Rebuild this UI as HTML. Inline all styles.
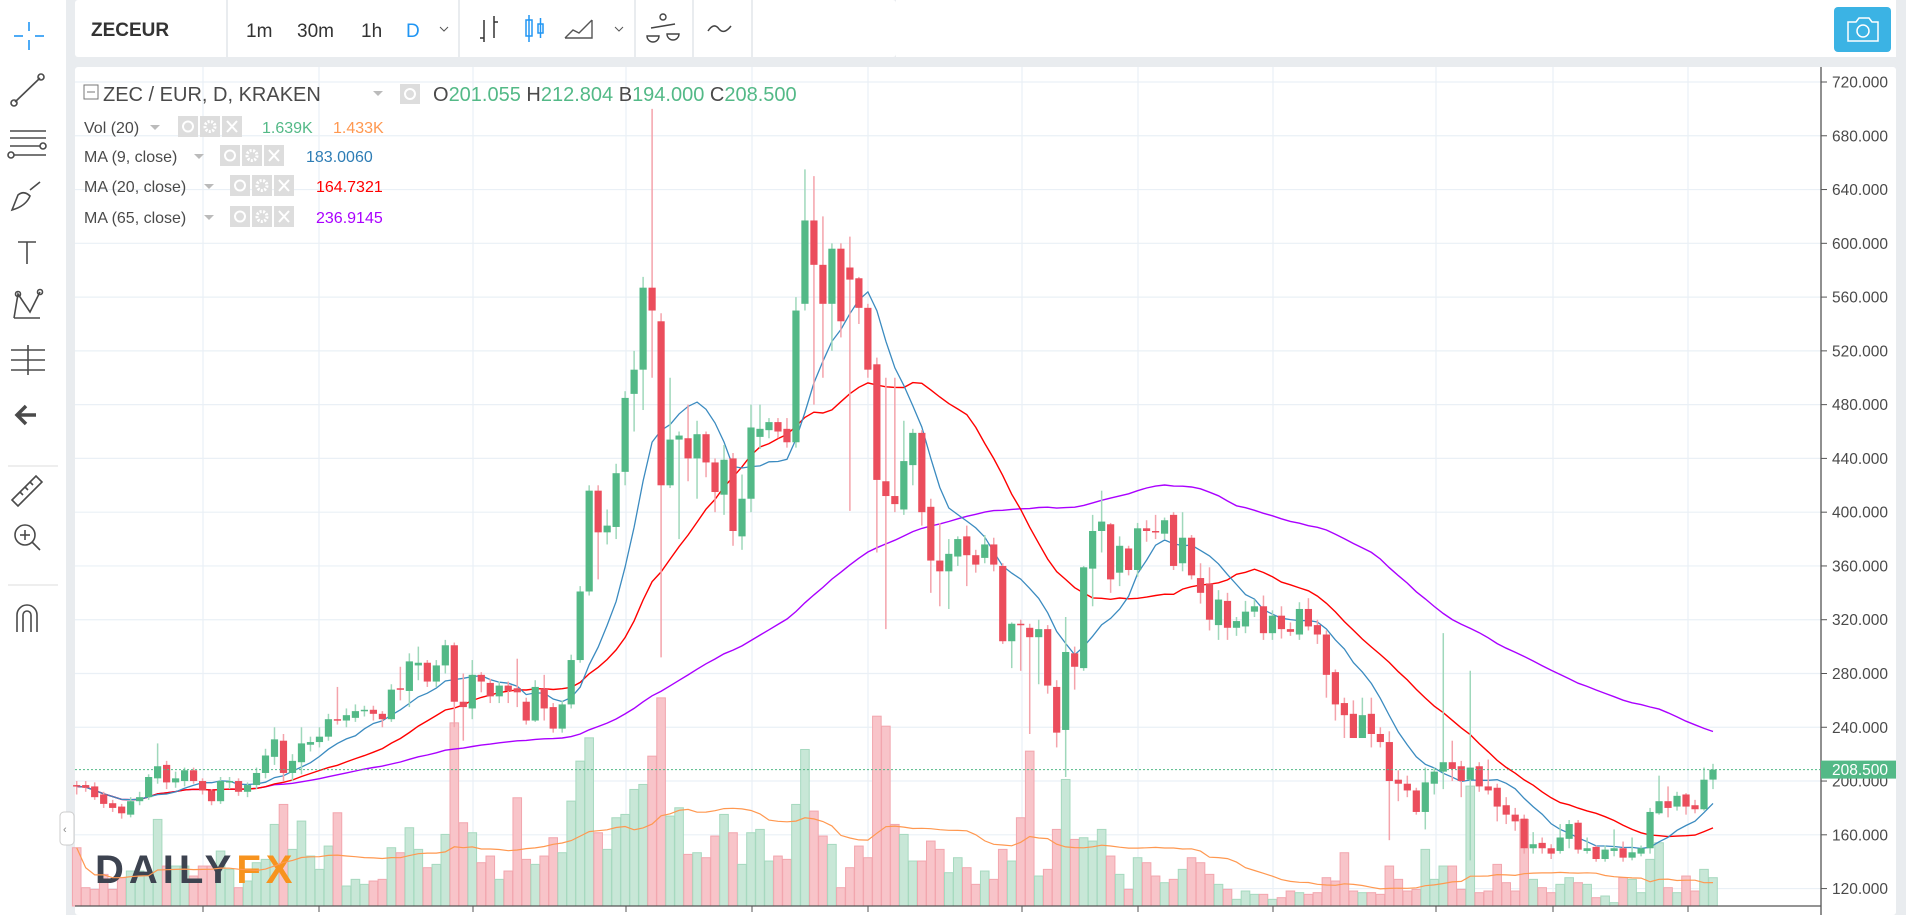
<!DOCTYPE html>
<html><head><meta charset="utf-8"><style>
html,body{margin:0;padding:0;background:#e9ecef;width:1906px;height:915px;overflow:hidden;font-family:"Liberation Sans",sans-serif}
svg{display:block}
</style></head><body>
<svg id="chart" width="1906" height="915" viewBox="0 0 1906 915" xmlns="http://www.w3.org/2000/svg">
<rect x="0" y="0" width="1906" height="915" fill="#e9ecef"/>
<rect x="0" y="0" width="66" height="915" fill="#fff"/>
<g stroke="#4a4a4a" fill="none" stroke-width="1.6">
<g stroke="#2196f3"><line x1="29" y1="22" x2="29" y2="31"/><line x1="29" y1="40" x2="29" y2="50"/><line x1="14" y1="36" x2="23" y2="36"/><line x1="35" y1="36" x2="44" y2="36"/></g>
<g><line x1="15" y1="102" x2="40" y2="78"/><circle cx="14" cy="103" r="3"/><circle cx="41" cy="77" r="3"/></g>
<g><line x1="10" y1="131" x2="46" y2="131"/><line x1="10" y1="138" x2="46" y2="138"/><line x1="10" y1="146" x2="40" y2="146"/><line x1="14" y1="155" x2="46" y2="155"/><circle cx="43" cy="146" r="3"/><circle cx="11" cy="155" r="3"/></g>
<g><path d="M12 210 L18 195 Q24 190 30 196 Q26 206 12 210 Z"/><path d="M30 190 L40 182"/></g>
<g><line x1="18" y1="242" x2="36" y2="242"/><line x1="27" y1="242" x2="27" y2="264"/></g>
<g><path d="M14 318 L18 294 L30 312 L40 292 M14 318 L40 318"/><circle cx="18" cy="294" r="2.5"/><circle cx="40" cy="292" r="2.5"/></g>
<g><line x1="11" y1="350" x2="45" y2="350"/><line x1="11" y1="360" x2="45" y2="360"/><line x1="11" y1="370" x2="45" y2="370"/><line x1="28" y1="345" x2="28" y2="375"/></g>
<g stroke-width="3.5"><path d="M36 415 L18 415 M26 406 L17 415 L26 424"/></g>
<line x1="8" y1="466" x2="58" y2="466" stroke="#ddd" stroke-width="1"/>
<g><path d="M12 500 L36 476 L42 482 L18 506 Z M20 492 L23 495 M25 487 L28 490 M30 482 L33 485"/></g>
<g><circle cx="25" cy="535" r="10"/><line x1="32" y1="542" x2="40" y2="550"/><line x1="20" y1="535" x2="30" y2="535"/><line x1="25" y1="530" x2="25" y2="540"/></g>
<line x1="8" y1="585" x2="58" y2="585" stroke="#ddd" stroke-width="1"/>
<g><path d="M17 632 L17 615 A10 10 0 0 1 37 615 L37 632 M23 632 L23 615 A4 4 0 0 1 31 615 L31 632"/></g>
</g>
<rect x="60" y="812" width="14" height="33" rx="4" fill="#fff" stroke="#ccc"/>
<text x="63" y="833" font-size="11" fill="#888">‹</text>

<g>
<rect x="75" y="0" width="821" height="57" fill="#fff" rx="3"/>
<rect x="226" y="0" width="2" height="57" fill="#e9ecef"/>
<rect x="458" y="0" width="2" height="57" fill="#e9ecef"/>
<rect x="634" y="0" width="2" height="57" fill="#e9ecef"/>
<rect x="692" y="0" width="2" height="57" fill="#e9ecef"/>
<rect x="751" y="0" width="2" height="57" fill="#e9ecef"/>
<rect x="896" y="0" width="1000" height="57" fill="#fff"/>
<text x="91" y="36" font-size="19" font-weight="bold" fill="#333">ZECEUR</text>
<text x="246" y="37" font-size="19" fill="#333">1m</text>
<text x="297" y="37" font-size="19" fill="#333">30m</text>
<text x="361" y="37" font-size="19" fill="#333">1h</text>
<text x="406" y="37" font-size="19" fill="#2196f3">D</text>
<path d="M440 27 L444 31 L448 27" stroke="#555" fill="none"/>
<g stroke="#333" fill="none" stroke-width="1.5"><path d="M484 20 L484 42 M480 38 L484 38 M494 16 L494 38 M494 22 L498 22"/></g>
<g stroke="#2196f3" fill="none" stroke-width="1.5"><rect x="526" y="20" width="6" height="16"/><line x1="529" y1="15" x2="529" y2="42"/><rect x="538" y="24" width="5" height="9"/><line x1="540.5" y1="18" x2="540.5" y2="38"/></g>
<g stroke="#555" fill="none" stroke-width="1.4"><path d="M565 38 L573 30 L579 33 L592 20 M565 38 L592 38 L592 20"/></g>
<path d="M615 27 L619 31 L623 27" stroke="#555" fill="none"/>
<g stroke="#444" fill="none" stroke-width="1.4"><circle cx="663" cy="17" r="3"/><line x1="651" y1="28" x2="675" y2="24"/><path d="M647 36 A6 6 0 0 0 659 36 Z M667 34 A6 6 0 0 0 679 34 Z"/></g>
<path d="M708 31 Q714 22 719 29 Q724 35 731 26" stroke="#444" fill="none" stroke-width="1.5"/>
<rect x="1834" y="7" width="57" height="45" rx="4" fill="#3bb3e4"/>
<path d="M1848 22 L1856 22 L1859 18 L1869 18 L1872 22 L1878 22 L1878 41 L1848 41 Z" stroke="#fff" fill="none" stroke-width="1.5"/>
<circle cx="1863" cy="31" r="6" stroke="#fff" fill="none" stroke-width="1.5"/>
</g>

<rect x="75" y="67" width="1821" height="848" fill="#fff" rx="3"/>
<g id="grid"></g>
<g id="vol"></g>
<g id="logo">
<text x="95" y="883" font-size="40" font-weight="bold" letter-spacing="5" fill="#3d4350">DAILY<tspan fill="#f7931e">FX</tspan></text>
</g>
<g id="lines"></g>
<g id="candles"></g>
<g id="axis"></g>

<g font-size="20">
<rect x="84" y="85" width="14" height="14" fill="none" stroke="#777"/><line x1="87" y1="92" x2="95" y2="92" stroke="#777"/>
<text x="103" y="101" fill="#4a4a4a">ZEC / EUR, D, KRAKEN</text>
<path d="M373 91 L378 96 L383 91 Z" fill="#bbb"/>
<rect x="400" y="84" width="20" height="20" fill="#ddd"/><circle cx="410" cy="94" r="5" stroke="#fff" fill="none" stroke-width="2"/>
<text x="433" y="101" fill="#4a4a4a">O<tspan fill="#53b987">201.055</tspan> H<tspan fill="#53b987">212.804</tspan> B<tspan fill="#53b987">194.000</tspan> C<tspan fill="#53b987">208.500</tspan></text>
<g font-size="16">
<text x="84" y="133" fill="#4a4a4a">Vol (20)</text>
<text x="262" y="133" fill="#53b987">1.639K</text><text x="333" y="133" fill="#ff9850">1.433K</text>
<text x="84" y="162" fill="#4a4a4a">MA (9, close)</text>
<text x="306" y="162" fill="#2e7db5">183.0060</text>
<text x="84" y="192" fill="#4a4a4a">MA (20, close)</text>
<text x="316" y="192" fill="#ff0000">164.7321</text>
<text x="84" y="223" fill="#4a4a4a">MA (65, close)</text>
<text x="316" y="223" fill="#aa00ff">236.9145</text>
</g>
<g id="legendIcons"></g>
<g fill="#bbb"><path d="M150 125 L155 130 L160 125 Z"/><path d="M194 154 L199 159 L204 154 Z"/><path d="M204 184 L209 189 L214 184 Z"/><path d="M204 215 L209 220 L214 215 Z"/></g>
</g>
</svg>
<script>
const opens=[197,197,196,190,183.5,181,175,185,188,202,212,199,200,208,200,193,185,199,200,192,197,206,218,230,206,214,227,229,233,246,245,247,252,253,250,246,269,267,286,288,274,286,301,259,254,279,273,263,271,269,259,245,269,255,239,257,290,341,416,385,389,430,488,506,567,542,420,454,455,440,458,437,413,440,382,410,456,461,467,462,452,555,617,584,555,596,582,574,552,510,423,412,402,435,459,404,364,356,367,382,368,366,376,360,304,317,314,307,313,270,238,295,284,358,386,391,355,373,357,388,386,384,398,362,381,351,347,316,334,314,315,326,330,310,323,313,309,328,316,309,281,258,250,232,250,235,229,201,198,193,177,198,207,214,211,201,211,196,195,182,175,172,150,154,150,148,157,169,148,151,142,148,150,143,146,150,176,185,181,190,182,179,201.055];
const closes=[196,195,188,183,180,176,185,188,203,211,199,202,208,200,193,185,200,200,192,197,206,219,231,206,215,228,229,233,246,245,249,252,253,250,246,268,268,289,288,274,286,301,259,255,279,274,263,271,267,266,245,270,254,239,257,290,341,416,385,390,429,485,506,567,550,420,454,457,440,458,437,415,439,386,410,463,462,467,460,452,550,617,584,555,596,542,573,552,506,424,412,406,438,459,400,364,356,369,380,368,361,376,361,304,317,316,307,313,271,236,296,285,359,386,393,350,375,357,388,386,385,394,360,381,353,340,320,335,314,319,326,330,310,323,313,311,328,315,309,279,257,249,232,249,235,229,200,198,193,177,199,207,214,209,200,210,196,193,181,175,170,150,153,150,146,158,168,149,150,142,149,150,143,147,150,177,185,180,189,181,179,201,208.5];
const highs=[200,200,199,192,186,183,188,192,205,228,215,207,210,210,202,194,203,203,202,199,210,224,240,235,220,240,233,240,250,270,254,257,256,256,252,272,285,295,300,290,290,305,303,280,290,281,276,274,274,291,262,275,279,258,260,294,345,420,420,402,436,490,520,575,700,548,500,460,480,468,460,440,450,444,428,480,480,470,470,470,560,655,650,620,600,600,605,575,555,515,500,500,468,462,461,410,392,380,382,390,372,383,381,362,318,320,317,320,316,275,322,300,360,398,416,392,382,375,392,394,398,396,400,400,383,362,359,342,340,322,334,335,338,327,330,318,333,336,320,312,283,262,260,262,262,240,237,208,204,195,210,210,310,230,215,282,214,216,198,188,180,175,162,158,153,168,171,171,158,152,152,164,155,158,152,180,204,196,192,191,186,210,212.8];
const lows=[190,192,186,180,177,172,173,182,186,198,194,195,196,198,190,182,183,194,189,188,194,202,212,200,200,205,222,225,230,242,240,244,248,245,240,244,260,255,275,270,270,280,240,230,246,266,258,258,258,255,242,244,245,236,236,254,288,338,350,376,380,420,460,476,500,292,418,380,423,410,426,400,398,375,372,400,447,455,455,448,448,550,480,500,520,530,401,540,500,370,313,400,398,420,390,340,330,328,360,345,355,362,356,302,284,282,235,272,265,225,203,268,282,330,370,340,345,353,352,378,380,380,357,356,350,332,312,305,305,308,310,322,305,305,306,308,305,312,302,262,245,232,232,232,225,225,156,185,188,175,164,190,194,200,188,141,192,190,170,168,163,146,146,146,142,146,150,146,146,140,140,144,140,141,144,146,175,173,178,175,176,178,194];
const volumes=[3.5,1.1,1.0,1.9,1.0,1.7,2.1,2.1,2.0,5.2,2.4,2.4,2.4,1.8,2.4,2.4,3.3,2.2,1.1,1.5,2.6,2.8,4.9,6.1,3.4,5.1,3.0,2.2,3.6,5.6,1.2,1.6,1.3,1.5,1.6,3.5,3.2,4.7,3.4,2.3,2.5,4.3,11.0,5.0,4.4,2.6,3.0,1.6,2.1,6.5,2.8,2.5,3.0,4.1,3.2,6.3,8.7,10.1,4.4,3.4,5.3,5.5,7.0,7.3,9.0,12.5,5.4,5.9,3.1,3.2,2.9,4.2,5.5,4.4,2.5,4.4,4.6,2.7,3.0,2.8,6.1,9.4,5.7,4.2,3.7,1.1,2.3,3.6,2.9,11.4,10.8,4.9,4.3,2.7,2.7,3.9,3.4,2.0,2.9,2.3,1.3,2.1,1.6,3.4,2.7,5.3,9.3,1.8,2.2,4.6,7.6,4.0,4.1,3.9,4.6,3.0,1.9,1.0,2.9,2.6,1.8,1.4,1.6,2.2,2.9,2.6,1.9,1.3,1.0,0.4,0.9,0.7,0.7,0.4,0.5,0.9,0.8,0.7,0.8,1.7,1.5,3.2,0.9,0.8,0.8,0.7,2.4,1.6,0.9,1.0,3.4,1.6,2.4,2.4,1.0,7.2,0.8,0.9,2.5,1.4,0.9,5.2,1.6,1.1,0.8,1.3,1.7,1.4,1.3,0.5,0.6,0.2,1.7,1.6,0.8,2.8,3.8,1.1,0.8,1.8,0.9,2.2,1.7];
const priceTicks=[720,680,640,600,560,520,480,440,400,360,320,280,240,200,160,120];
const timeGridX=[203,319,473,626,752,868,1022,1138,1273,1436,1553,1688];
const lastPrice=208.5;

const NS='http://www.w3.org/2000/svg';
const X0=76.7, STEP=(1713-76.7)/(closes.length-1);
function xAt(i){return X0+i*STEP;}
function yP(p){return 82+(720-p)*1.3443;}
const VBASE=906, VK=16.65;
function yV(v){return VBASE-v*VK;}
function mk(tag,attrs,parent){const e=document.createElementNS(NS,tag);for(const k in attrs)e.setAttribute(k,attrs[k]);parent.appendChild(e);return e;}

const li=document.getElementById('legendIcons');
[[178,116],[220,145],[230,175],[230,206]].forEach(([bx,by])=>{
  for(let k=0;k<3;k++){
    const x=bx+k*22;
    const r=mk('rect',{x:x,y:by,width:20,height:21,fill:'#ddd'},li);
    
    
    if(k===0){mk('circle',{cx:x+10,cy:by+10.5,r:5,stroke:'#fff',fill:'none','stroke-width':2},li);}
    else if(k===1){mk('circle',{cx:x+10,cy:by+10.5,r:5,stroke:'#fff',fill:'none','stroke-width':3,'stroke-dasharray':'2 1.5'},li);}
    else{mk('path',{d:`M${x+5} ${by+5} L${x+15} ${by+16} M${x+15} ${by+5} L${x+5} ${by+16}`,stroke:'#fff','stroke-width':2},li);}
  }
});

const grid=document.getElementById('grid');
priceTicks.forEach(p=>{
  const l=mk('line',{x1:75,x2:1821,y1:yP(p),y2:yP(p),stroke:'#eaf0f6','stroke-width':1.2},grid);
  
  
});
timeGridX.forEach(x=>{
  const l=mk('line',{x1:x,x2:x,y1:67,y2:906,stroke:'#eaf0f6','stroke-width':1.2},grid);
  
  
  const t=mk('line',{x1:x,x2:x,y1:906,y2:912,stroke:'#555','stroke-width':1},grid);
  
  
});

const vol=document.getElementById('vol');
volumes.forEach((v,i)=>{
  const up=closes[i]>=opens[i];
  const r=mk('rect',{x:xAt(i)-4.3,y:yV(v),width:8.6,height:VBASE-yV(v),fill:up?'#c8e7d7':'#f8c4c9',stroke:up?'#a6d9bf':'#f2a6ae','stroke-width':1},vol);
  
  
});

function sma(arr,n){return arr.map((_,i)=>{const s=Math.max(0,i-n+1);let t=0;for(let k=s;k<=i;k++)t+=arr[k];return t/(i-s+1);});}
function drawLine(vals,yf,color,name,w){
  const d=vals.map((v,i)=>(i?'L':'M')+xAt(i).toFixed(1)+' '+yf(v).toFixed(1)).join(' ');
  const p=mk('path',{d:d,fill:'none',stroke:color,'stroke-width':w},document.getElementById('lines'));
  
  
}
drawLine(sma(volumes,20),yV,'#ff9850','volume-ma-line',1.2);
drawLine(sma(closes,65),yP,'#aa00ff','ma65-line',1.4);
drawLine(sma(closes,20),yP,'#ff0000','ma20-line',1.4);
drawLine(sma(closes,9),yP,'#3b8bc0','ma9-line',1.3);

const cg=document.getElementById('candles');
closes.forEach((c,i)=>{
  const o=opens[i],up=c>=o,x=xAt(i);
  const w=mk('line',{x1:x,x2:x,y1:yP(highs[i]),y2:yP(lows[i]),stroke:up?'#9fd8bb':'#f4a3ab','stroke-width':1.5},cg);
  
  
  const top=yP(Math.max(o,c)),bot=yP(Math.min(o,c));
  const b=mk('rect',{x:x-3.6,y:top,width:7.2,height:Math.max(1.5,bot-top),fill:up?'#53b987':'#eb4d5c'},cg);
  
  
});

const ax=document.getElementById('axis');
mk('line',{x1:1821,x2:1821,y1:67,y2:915,stroke:'#555','stroke-width':1.3},ax);
mk('line',{x1:75,x2:1821,y1:906,y2:906,stroke:'#555','stroke-width':1.3},ax);
priceTicks.forEach(p=>{
  mk('line',{x1:1821,x2:1827,y1:yP(p),y2:yP(p),stroke:'#555'},ax);
  const t=mk('text',{x:1832,y:yP(p)+5.5,'font-size':15.5,fill:'#4a4a4a'},ax);
  t.textContent=p.toFixed(3);
  
  
});
const dl=mk('line',{x1:75,x2:1821,y1:yP(lastPrice),y2:yP(lastPrice),stroke:'#53b987','stroke-width':1,'stroke-dasharray':'2 2'},ax);


const lb=mk('rect',{x:1821,y:yP(lastPrice)-9,width:75,height:18,fill:'#53b987'},ax);


const lt=mk('text',{x:1832,y:yP(lastPrice)+5.5,'font-size':15.5,fill:'#fff'},ax);
lt.textContent=lastPrice.toFixed(3);


</script>
</body></html>
